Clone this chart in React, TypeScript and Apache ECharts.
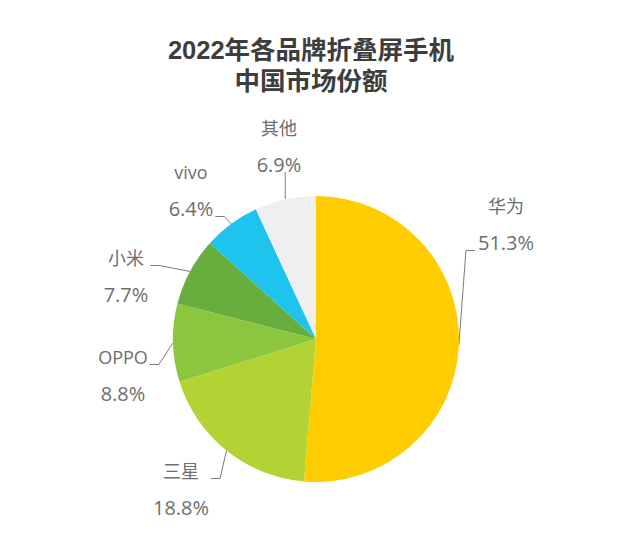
import React, { useEffect, useRef } from "react";
import * as echarts from "echarts";

const TITLE_LINE1 = "2022年各品牌折叠屏手机";
const TITLE_LINE2 = "中国市场份额";
const brands = ["华为", "三星", "OPPO", "小米", "vivo", "其他"];
const shares = [51.3, 18.8, 8.8, 7.7, 6.4, 6.9];
const colors = ["#FFCC00", "#B3D334", "#8CC63F", "#68AE3E", "#1EC3EE", "#EFEFEF"];
// label block centres (layout only)
const labelPos: [number, number][] = [
  [506, 224],
  [181, 489],
  [123, 375],
  [126, 276],
  [191, 190],
  [279, 146],
];
// which side/line of the label the guide line attaches to (layout only)
const attach = ["left-bottom", "right-top", "right-top", "right-top", "right-bottom", "bottom"];

const LINE_H = 37;

export default function App() {
  const ref = useRef<HTMLDivElement>(null);
  useEffect(() => {
    document.body.style.margin = "0";
    const chart = echarts.init(ref.current!, null, { renderer: "svg" });
    const font = "'Open Sans', 'Noto Sans CJK SC', sans-serif";
    const titleStyle = {
      fontSize: 25.5,
      fontWeight: "bold",
      color: "#3d3d3d",
      lineHeight: 31,
      fontFamily: "'Liberation Sans', 'Noto Sans CJK SC', sans-serif",
    };
    chart.setOption({
      animation: false,
      backgroundColor: "#ffffff",
      title: {
        text: TITLE_LINE1,
        subtext: TITLE_LINE2,
        left: 306,
        top: 29,
        textAlign: "center",
        itemGap: 0,
        textStyle: titleStyle,
        subtextStyle: titleStyle,
      },
      series: [
        {
          type: "pie",
          center: [316, 339],
          radius: 143,
          startAngle: 90,
          clockwise: true,
          data: brands.map((b, i) => ({
            name: b,
            value: shares[i],
            itemStyle: { color: colors[i] },
          })),
          label: {
            show: true,
            position: "outside",
            formatter: (p: any) => `{n|${p.name}}\n{v|${p.value}%}`,
            color: "#6e6e6e",
            fontFamily: font,
            rich: {
              n: { fontSize: 18, lineHeight: LINE_H, color: "#6e6e6e", fontFamily: font },
              v: { fontSize: 20, lineHeight: LINE_H, color: "#6e6e6e", fontFamily: font },
            },
          },
          labelLine: {
            show: true,
            length: 12,
            length2: 10,
            lineStyle: { color: "#7a7a7a", width: 1 },
          },
          labelLayout: (params: any) => {
            const i = params.dataIndex;
            const [cx, cy] = labelPos[i];
            const w = params.labelRect.width;
            const h = params.labelRect.height;
            const p0 = params.labelLinePoints ? params.labelLinePoints[0] : [cx, cy];
            const mode = attach[i];
            let p1: number[];
            let p2: number[];
            if (mode === "bottom") {
              const yb = cy + h / 2 - 2;
              p2 = [p0[0], yb];
              p1 = [p0[0], (yb + p0[1]) / 2];
            } else {
              const isLeft = mode.startsWith("left");
              const lineY = mode.endsWith("top") ? cy - LINE_H / 2 + 8 : cy + LINE_H / 2 + 8;
              const xEdge = isLeft ? cx - w / 2 - 3 : cx + w / 2 + 2;
              p2 = [xEdge, lineY];
              p1 = [isLeft ? xEdge - 9 : xEdge + 9, lineY];
            }
            return {
              x: cx,
              y: cy,
              align: "center",
              verticalAlign: "middle",
              labelLinePoints: [p0, p1, p2],
            };
          },
          emphasis: { disabled: true },
        },
      ],
    });
    return () => chart.dispose();
  }, []);
  return <div ref={ref} style={{ width: 640, height: 556 }} />;
}
